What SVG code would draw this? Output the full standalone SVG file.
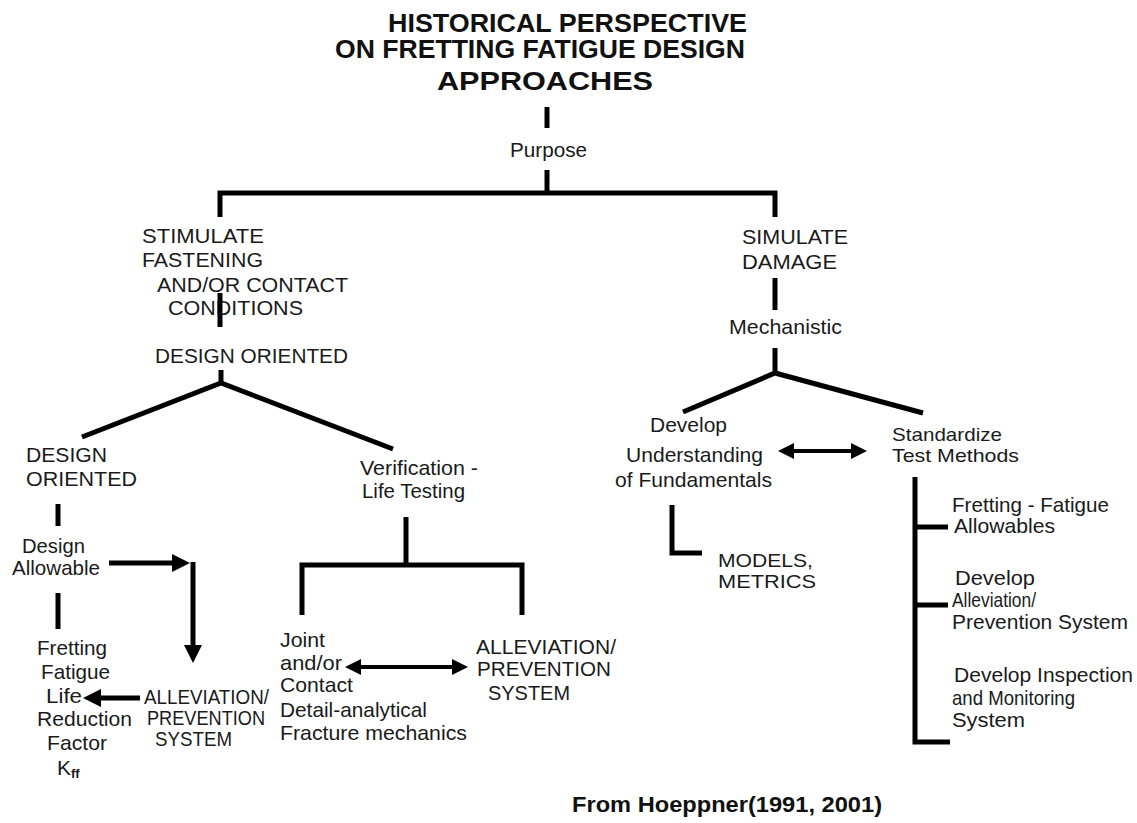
<svg xmlns="http://www.w3.org/2000/svg" width="1137" height="823" viewBox="0 0 1137 823">
  <style>
    .t { font-family: "Liberation Sans", Arial, sans-serif; font-size: 21px; fill: #1a1a1a; }
    .s { font-size: 19px; }
    .h { font-family: "Liberation Sans", Arial, sans-serif; font-size: 25px; font-weight: bold; fill: #111; }
    .f { font-family: "Liberation Sans", Arial, sans-serif; font-size: 22px; font-weight: bold; fill: #111; }
    .sub { font-size: 13px; font-weight: bold; }
    .c { fill: none; stroke: #000; stroke-width: 5; stroke-linejoin: miter; }
    .a { fill: none; stroke: #000; stroke-width: 5; }
    .d { fill: none; stroke: #000; stroke-width: 4; }
  </style>
  <defs>
    <marker id="head" markerUnits="userSpaceOnUse" markerWidth="20" markerHeight="20" refX="6" refY="9" orient="auto-start-reverse">
      <path d="M0,0 L18,9 L0,18 z" fill="#000"/>
    </marker>
    <marker id="head2" markerUnits="userSpaceOnUse" markerWidth="18" markerHeight="18" refX="5" refY="8" orient="auto-start-reverse">
      <path d="M0,0 L16,8 L0,16 z" fill="#000"/>
    </marker>
  </defs>
  <rect width="1137" height="823" fill="#fff"/>

  <!-- title -->
  <g id="title">
    <text class="h" x="388" y="32" textLength="359" lengthAdjust="spacingAndGlyphs">HISTORICAL PERSPECTIVE</text>
    <text class="h" x="335" y="58" textLength="410" lengthAdjust="spacingAndGlyphs">ON FRETTING FATIGUE DESIGN</text>
    <text class="h" x="437" y="90" textLength="216" lengthAdjust="spacingAndGlyphs">APPROACHES</text>
  </g>

  <g id="purpose">
    <text class="t" x="510" y="157" textLength="77" lengthAdjust="spacingAndGlyphs">Purpose</text>
  </g>

  <g id="stimulate">
    <text class="t" x="142" y="243" textLength="122" lengthAdjust="spacingAndGlyphs">STIMULATE</text>
    <text class="t" x="142" y="267" textLength="121" lengthAdjust="spacingAndGlyphs">FASTENING</text>
    <text class="t" x="157" y="292" textLength="191" lengthAdjust="spacingAndGlyphs">AND/OR CONTACT</text>
    <text class="t" x="168" y="315" textLength="135" lengthAdjust="spacingAndGlyphs">CONDITIONS</text>
  </g>

  <g id="design-oriented-top">
    <text class="t" x="155" y="363" textLength="193" lengthAdjust="spacingAndGlyphs">DESIGN ORIENTED</text>
  </g>

  <g id="design-oriented">
    <text class="t" x="26" y="462" textLength="81" lengthAdjust="spacingAndGlyphs">DESIGN</text>
    <text class="t" x="26" y="486" textLength="111" lengthAdjust="spacingAndGlyphs">ORIENTED</text>
  </g>

  <g id="design-allowable">
    <text class="t" x="22" y="553" textLength="63" lengthAdjust="spacingAndGlyphs">Design</text>
    <text class="t" x="12" y="575" textLength="88" lengthAdjust="spacingAndGlyphs">Allowable</text>
  </g>

  <g id="life-reduction">
    <text class="t" x="37" y="655" textLength="70" lengthAdjust="spacingAndGlyphs">Fretting</text>
    <text class="t" x="41" y="679" textLength="69" lengthAdjust="spacingAndGlyphs">Fatigue</text>
    <text class="t" x="46" y="703" textLength="36" lengthAdjust="spacingAndGlyphs">Life</text>
    <text class="t" x="37" y="726" textLength="95" lengthAdjust="spacingAndGlyphs">Reduction</text>
    <text class="t" x="47" y="750" textLength="60" lengthAdjust="spacingAndGlyphs">Factor</text>
    <text class="t" x="57" y="775">K<tspan class="sub" dy="3">ff</tspan></text>
  </g>

  <g id="alleviation-left">
    <text class="t" x="144" y="704" textLength="125" lengthAdjust="spacingAndGlyphs">ALLEVIATION/</text>
    <text class="t" x="147" y="725" textLength="118" lengthAdjust="spacingAndGlyphs">PREVENTION</text>
    <text class="t" x="155" y="746" textLength="77" lengthAdjust="spacingAndGlyphs">SYSTEM</text>
  </g>

  <g id="verification">
    <text class="t" x="360" y="475" textLength="118" lengthAdjust="spacingAndGlyphs">Verification -</text>
    <text class="t" x="362" y="498" textLength="103" lengthAdjust="spacingAndGlyphs">Life Testing</text>
  </g>

  <g id="joint-contact">
    <text class="t" x="280" y="647" textLength="45" lengthAdjust="spacingAndGlyphs">Joint</text>
    <text class="t" x="280" y="670" textLength="62" lengthAdjust="spacingAndGlyphs">and/or</text>
    <text class="t" x="280" y="692" textLength="73" lengthAdjust="spacingAndGlyphs">Contact</text>
    <text class="t" x="280" y="717" textLength="147" lengthAdjust="spacingAndGlyphs">Detail-analytical</text>
    <text class="t" x="280" y="740" textLength="187" lengthAdjust="spacingAndGlyphs">Fracture mechanics</text>
  </g>

  <g id="alleviation-right">
    <text class="t" x="476" y="654" textLength="140" lengthAdjust="spacingAndGlyphs">ALLEVIATION/</text>
    <text class="t" x="477" y="676" textLength="134" lengthAdjust="spacingAndGlyphs">PREVENTION</text>
    <text class="t" x="488" y="700" textLength="82" lengthAdjust="spacingAndGlyphs">SYSTEM</text>
  </g>

  <g id="simulate-damage">
    <text class="t" x="742" y="244" textLength="106" lengthAdjust="spacingAndGlyphs">SIMULATE</text>
    <text class="t" x="742" y="269" textLength="95" lengthAdjust="spacingAndGlyphs">DAMAGE</text>
  </g>

  <g id="mechanistic">
    <text class="t" x="729" y="334" textLength="113" lengthAdjust="spacingAndGlyphs">Mechanistic</text>
  </g>

  <g id="fundamentals">
    <text class="t" x="650" y="432" textLength="77" lengthAdjust="spacingAndGlyphs">Develop</text>
    <text class="t" x="626" y="462" textLength="137" lengthAdjust="spacingAndGlyphs">Understanding</text>
    <text class="t" x="615" y="487" textLength="157" lengthAdjust="spacingAndGlyphs">of Fundamentals</text>
  </g>

  <g id="models">
    <text class="t s" x="718" y="567" textLength="95" lengthAdjust="spacingAndGlyphs">MODELS,</text>
    <text class="t s" x="718" y="588" textLength="98" lengthAdjust="spacingAndGlyphs">METRICS</text>
  </g>

  <g id="standardize">
    <text class="t s" x="892" y="441" textLength="110" lengthAdjust="spacingAndGlyphs">Standardize</text>
    <text class="t s" x="892" y="462" textLength="127" lengthAdjust="spacingAndGlyphs">Test Methods</text>
  </g>

  <g id="allowables">
    <text class="t" x="952" y="512" textLength="157" lengthAdjust="spacingAndGlyphs">Fretting - Fatigue</text>
    <text class="t" x="954" y="533" textLength="101" lengthAdjust="spacingAndGlyphs">Allowables</text>
  </g>

  <g id="alleviation-system">
    <text class="t" x="955" y="585" textLength="80" lengthAdjust="spacingAndGlyphs">Develop</text>
    <text class="t" x="952" y="607" textLength="84" lengthAdjust="spacingAndGlyphs">Alleviation/</text>
    <text class="t" x="952" y="629" textLength="176" lengthAdjust="spacingAndGlyphs">Prevention System</text>
  </g>

  <g id="inspection">
    <text class="t" x="954" y="682" textLength="179" lengthAdjust="spacingAndGlyphs">Develop Inspection</text>
    <text class="t" x="952" y="705" textLength="123" lengthAdjust="spacingAndGlyphs">and Monitoring</text>
    <text class="t" x="952" y="727" textLength="73" lengthAdjust="spacingAndGlyphs">System</text>
  </g>

  <g id="source">
    <text class="f" x="572" y="812" textLength="310" lengthAdjust="spacingAndGlyphs">From Hoeppner(1991, 2001)</text>
  </g>

  <!-- connectors -->
  <g id="connectors">
    <line class="c" x1="547" y1="107" x2="547" y2="128"/>
    <line class="c" x1="547" y1="170" x2="547" y2="193"/>
    <polyline class="c" points="220,217 220,193 775,193 775,217"/>
    <line class="c" x1="220" y1="293" x2="220" y2="327"/>
    <line class="c" x1="221" y1="370" x2="221" y2="383"/>
    <polyline class="c" points="82,437 221,383 393,449"/>
    <line class="c" x1="58" y1="504" x2="58" y2="526"/>
    <line class="c" x1="58" y1="593" x2="58" y2="629"/>
    <line class="c" x1="406" y1="517" x2="406" y2="565"/>
    <polyline class="c" points="302,615 302,565 522,565 522,615"/>
    <line class="c" x1="775" y1="278" x2="775" y2="310"/>
    <line class="c" x1="775" y1="348" x2="775" y2="373"/>
    <polyline class="c" points="683,412 775,373 923,413"/>
    <polyline class="c" points="672,505 672,553 702,553"/>
    <polyline class="c" points="915,477 915,742 950,742"/>
    <line class="c" x1="915" y1="527" x2="948" y2="527"/>
    <line class="c" x1="915" y1="605" x2="948" y2="605"/>

    <!-- arrows -->
    <line class="a" x1="109" y1="563" x2="178" y2="563" marker-end="url(#head)"/>
    <line class="a" x1="193" y1="562" x2="193" y2="651" marker-end="url(#head)"/>
    <line class="a" x1="140" y1="698" x2="95" y2="698" marker-end="url(#head)"/>
    <line class="d" x1="356" y1="667" x2="457" y2="667" marker-start="url(#head2)" marker-end="url(#head2)"/>
    <line class="d" x1="789" y1="451" x2="856" y2="451" marker-start="url(#head2)" marker-end="url(#head2)"/>
  </g>
</svg>
